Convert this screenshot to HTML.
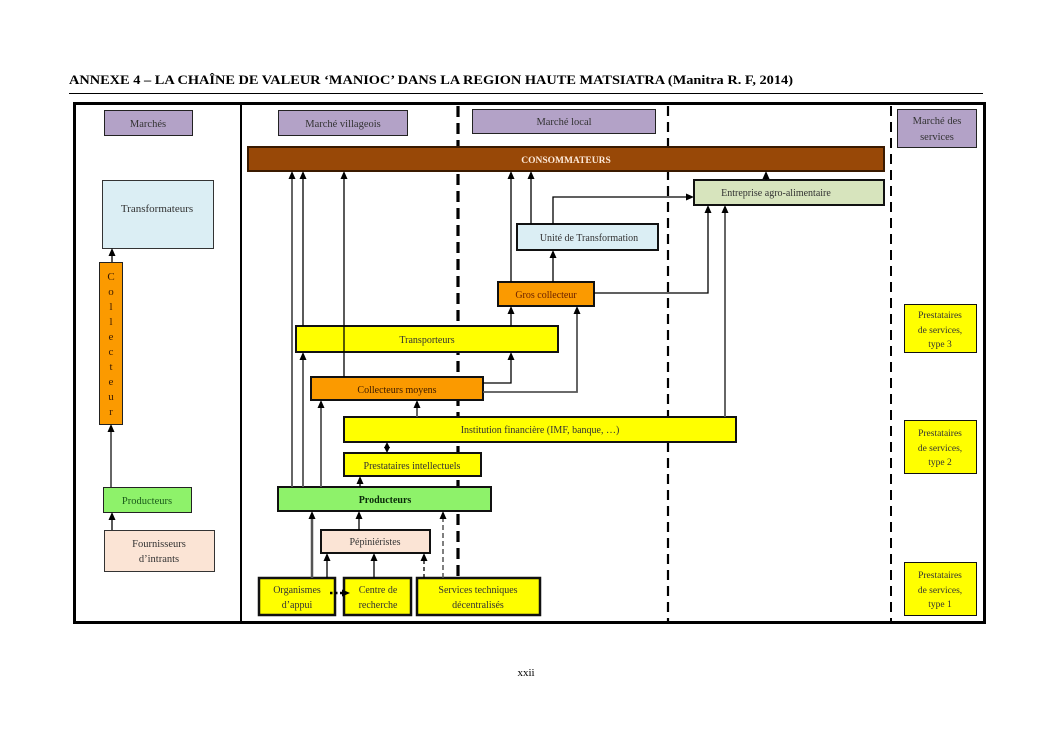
<!DOCTYPE html>
<html><head><meta charset="utf-8"><style>
html,body{margin:0;padding:0;background:#fff;}
svg{display:block;}
text{font-family:"Liberation Serif",serif;}
</style></head><body>
<svg width="1053" height="745" viewBox="0 0 1053 745" xmlns="http://www.w3.org/2000/svg">
<rect x="0" y="0" width="1053" height="745" fill="#fff"/>
<!-- title -->
<text x="69" y="84" font-size="13" font-weight="bold" fill="#000" textLength="724" lengthAdjust="spacingAndGlyphs">ANNEXE 4 – LA CHAÎNE DE VALEUR ‘MANIOC’ DANS LA REGION HAUTE MATSIATRA (Manitra R. F, 2014)</text>
<line x1="69" y1="93.5" x2="983" y2="93.5" stroke="#000" stroke-width="1"/>

<!-- separators -->
<line x1="241" y1="104" x2="241" y2="622" stroke="#000" stroke-width="2"/>
<line x1="458" y1="106" x2="458" y2="576" stroke="#000" stroke-width="3.2" stroke-dasharray="11,6"/>
<line x1="668" y1="106" x2="668" y2="622" stroke="#000" stroke-width="2.2" stroke-dasharray="10,6"/>
<line x1="891" y1="106" x2="891" y2="622" stroke="#000" stroke-width="2" stroke-dasharray="10,6"/>

<!-- frame -->
<rect x="74.5" y="103.5" width="910" height="519" fill="none" stroke="#000" stroke-width="3"/>

<!-- market headers -->
<g font-size="10.5" fill="#333" text-anchor="middle">
<rect x="104.5" y="110.5" width="88" height="25" fill="#b3a2c7" stroke="#222" stroke-width="1"/>
<text x="148" y="127">Marchés</text>
<rect x="278.5" y="110.5" width="129" height="25" fill="#b3a2c7" stroke="#222" stroke-width="1"/>
<text x="343" y="127">Marché villageois</text>
<rect x="472.5" y="109.5" width="183" height="24" fill="#b3a2c7" stroke="#222" stroke-width="1"/>
<text x="564" y="125">Marché local</text>
<rect x="897.5" y="109.5" width="79" height="38" fill="#b3a2c7" stroke="#222" stroke-width="1"/>
<text x="937" y="124">Marché des</text>
<text x="937" y="140">services</text>
</g>

<!-- consommateurs -->
<rect x="248" y="147" width="636" height="24" fill="#984807" stroke="#3a1a00" stroke-width="2"/>
<text x="566" y="163" font-size="9.5" font-weight="bold" fill="#fde9d9" text-anchor="middle">CONSOMMATEURS</text>

<!-- left column -->
<rect x="102.5" y="180.5" width="111" height="68" fill="#dbeef4" stroke="#333" stroke-width="1"/>
<text x="157" y="212" font-size="11" fill="#333" text-anchor="middle">Transformateurs</text>

<rect x="99.5" y="262.5" width="23" height="162" fill="#fb9a00" stroke="#222" stroke-width="1"/>
<g font-size="11" fill="#3a1a00" text-anchor="middle">
<text x="111" y="280">C</text><text x="111" y="295">o</text><text x="111" y="310">l</text><text x="111" y="325">l</text><text x="111" y="340">e</text><text x="111" y="355">c</text><text x="111" y="370">t</text><text x="111" y="385">e</text><text x="111" y="400">u</text><text x="111" y="415">r</text>
</g>

<rect x="103.5" y="487.5" width="88" height="25" fill="#8ef26a" stroke="#222" stroke-width="1"/>
<text x="147" y="504" font-size="10.5" fill="#1a5a1a" text-anchor="middle">Producteurs</text>

<rect x="104.5" y="530.5" width="110" height="41" fill="#fbe4d5" stroke="#333" stroke-width="1"/>
<text x="159" y="547" font-size="10.5" fill="#333" text-anchor="middle">Fournisseurs</text>
<text x="159" y="562" font-size="10.5" fill="#333" text-anchor="middle">d’intrants</text>

<!-- middle boxes -->
<g stroke="#111" stroke-width="2">
<rect x="694" y="180" width="190" height="25" fill="#d7e4bd"/>
<rect x="517" y="224" width="141" height="26" fill="#dbeef4"/>
<rect x="498" y="282" width="96" height="24" fill="#fb9a00"/>
<rect x="296" y="326" width="262" height="26" fill="#ffff00"/>
<rect x="311" y="377" width="172" height="23" fill="#fb9a00"/>
<rect x="344" y="417" width="392" height="25" fill="#ffff00"/>
<rect x="344" y="453" width="137" height="23" fill="#ffff00"/>
<rect x="278" y="487" width="213" height="24" fill="#8ef26a"/>
<rect x="321" y="530" width="109" height="23" fill="#fbe4d5"/>
</g>
<g stroke="#111" stroke-width="2.5" fill="#ffff00">
<rect x="259" y="578" width="76" height="37"/>
<rect x="344" y="578" width="67" height="37"/>
<rect x="417" y="578" width="123" height="37"/>
</g>
<g stroke="#111" stroke-width="1" fill="#ffff00">
<rect x="904.5" y="304.5" width="72" height="48"/>
<rect x="904.5" y="420.5" width="72" height="53"/>
<rect x="904.5" y="562.5" width="72" height="53"/>
</g>

<g font-size="10" fill="#333" text-anchor="middle">
<text x="776" y="196">Entreprise agro-alimentaire</text>
<text x="589" y="241">Unité de Transformation</text>
<text x="546" y="298" fill="#6a2000">Gros collecteur</text>
<text x="427" y="343">Transporteurs</text>
<text x="397" y="393" fill="#3a1a00">Collecteurs moyens</text>
<text x="540" y="433">Institution financière (IMF, banque, …)</text>
<text x="412" y="469">Prestataires intellectuels</text>
<text x="385" y="503" font-weight="bold" fill="#0a2a0a">Producteurs</text>
<text x="375" y="545">Pépiniéristes</text>
<text x="297" y="593">Organismes</text>
<text x="297" y="608">d’appui</text>
<text x="378" y="593">Centre de</text>
<text x="378" y="608">recherche</text>
<text x="478" y="593">Services techniques</text>
<text x="478" y="608">décentralisés</text>
</g>
<g font-size="9.5" fill="#333" text-anchor="middle">
<text x="940" y="318">Prestataires</text><text x="940" y="333">de services,</text><text x="940" y="347">type 3</text>
<text x="940" y="436">Prestataires</text><text x="940" y="451">de services,</text><text x="940" y="465">type 2</text>
<text x="940" y="578">Prestataires</text><text x="940" y="593">de services,</text><text x="940" y="607">type 1</text>
</g>

<!-- connectors -->
<g fill="none" stroke="#000" stroke-width="1.3">
<line x1="112" y1="262" x2="112" y2="252"/>
<line x1="112" y1="530" x2="112" y2="516"/>
<line x1="303" y1="326" x2="303" y2="176"/>
<line x1="344" y1="377" x2="344" y2="176"/>
<line x1="360" y1="487" x2="360" y2="480"/>
<line x1="387" y1="444" x2="387" y2="451"/>
<polyline points="483,383 511,383 511,357"/>
<line x1="511" y1="326" x2="511" y2="311"/>
<line x1="511" y1="282" x2="511" y2="176"/>
<line x1="531" y1="224" x2="531" y2="176"/>
<line x1="553" y1="282" x2="553" y2="255"/>
<polyline points="553,224 553,197 689,197"/>
<polyline points="594,293 708,293 708,210"/>
<line x1="766" y1="180" x2="766" y2="176"/>
<line x1="327" y1="578" x2="327" y2="558"/>
<line x1="359" y1="530" x2="359" y2="516"/>
<line x1="374" y1="578" x2="374" y2="558"/>
</g>
<g fill="none" stroke="#555" stroke-width="1.8">
<line x1="111" y1="487" x2="111" y2="429"/>
<line x1="292" y1="487" x2="292" y2="176"/>
<line x1="303" y1="487" x2="303" y2="357"/>
<line x1="321" y1="487" x2="321" y2="405"/>
<line x1="417" y1="417" x2="417" y2="405"/>
<polyline points="483,392 577,392 577,311"/>
<line x1="725" y1="417" x2="725" y2="210"/>
<line x1="312" y1="578" x2="312" y2="516" stroke-width="2.5"/>
</g>
<line x1="424" y1="578" x2="424" y2="558" stroke="#000" stroke-width="1.3" stroke-dasharray="4,3"/>
<line x1="443" y1="578" x2="443" y2="516" stroke="#555" stroke-width="1.5" stroke-dasharray="5,3"/>
<line x1="330" y1="593" x2="342" y2="593" stroke="#000" stroke-width="2.5" stroke-dasharray="2.5,2.5"/>

<!-- arrowheads -->
<g fill="#000">
<polygon points="112,248 108.5,256 115.5,256"/>
<polygon points="111,424 107.5,432 114.5,432"/>
<polygon points="112,512 108.5,520 115.5,520"/>
<polygon points="292,171 288.5,179 295.5,179"/>
<polygon points="303,171 299.5,179 306.5,179"/>
<polygon points="344,171 340.5,179 347.5,179"/>
<polygon points="303,352 299.5,360 306.5,360"/>
<polygon points="321,400 317.5,408 324.5,408"/>
<polygon points="417,400 413.5,408 420.5,408"/>
<polygon points="387,442 384,448 390,448"/>
<polygon points="387,453 384,447 390,447"/>
<polygon points="360,476 356.5,484 363.5,484"/>
<polygon points="511,352 507.5,360 514.5,360"/>
<polygon points="577,306 573.5,314 580.5,314"/>
<polygon points="511,306 507.5,314 514.5,314"/>
<polygon points="511,171 507.5,179 514.5,179"/>
<polygon points="531,171 527.5,179 534.5,179"/>
<polygon points="553,250 549.5,258 556.5,258"/>
<polygon points="694,197 686,193.5 686,200.5"/>
<polygon points="708,205 704.5,213 711.5,213"/>
<polygon points="725,205 721.5,213 728.5,213"/>
<polygon points="766,171 762.5,179 769.5,179"/>
<polygon points="312,511 308.5,519 315.5,519"/>
<polygon points="327,553 323.5,561 330.5,561"/>
<polygon points="359,511 355.5,519 362.5,519"/>
<polygon points="374,553 370.5,561 377.5,561"/>
<polygon points="424,553 420.5,561 427.5,561"/>
<polygon points="443,511 439.5,519 446.5,519"/>
<polygon points="350,593 342,589.5 342,596.5"/>
</g>

<text x="526" y="676" font-size="11" fill="#000" text-anchor="middle">xxii</text>
</svg>
</body></html>
